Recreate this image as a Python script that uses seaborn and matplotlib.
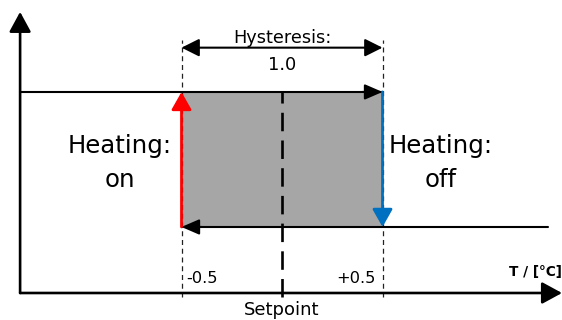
import matplotlib
matplotlib.use("Agg")
import matplotlib.pyplot as plt
import seaborn as sns

# Hysteresis controller data (temperature relative to setpoint, heating state)
setpoint = 0.0
hysteresis = 1.0
t_on = -0.5          # heating switches on
t_off = 0.5          # heating switches off
state_on = 1.0
state_off = 0.0
tick_labels = ["-0.5", "+0.5"]

# axis extent (temperature / state units)
x_min, x_max = -1.303, 1.393
y_min, y_max = -0.489, 1.593
lower_line_end = 1.323

sns.set_style("white")
plt.rcParams["font.family"] = ["DejaVu Sans"]
plt.rcParams["text.color"] = "black"

fig = plt.figure(figsize=(5.62, 3.2), dpi=100)
ax = fig.add_axes([0, 0, 1, 1])
ax.set_xlim(-1.403, 1.393)
ax.set_ylim(-0.689, 1.681)
ax.axis("off")

# shaded hysteresis band
ax.fill_between([t_on, t_off], state_off, state_on, color="#a6a6a6", lw=0, zorder=1)

# dashed guide lines at the switching points
for t in (t_on, t_off):
    ax.plot([t, t], [-0.52, 1.385], color="#222222", lw=0.9,
            linestyle=(0, (4, 3)), zorder=2)

# setpoint dashed line
ax.plot([setpoint, setpoint], [-0.52, state_on], color="black", lw=1.9,
        linestyle=(0, (7, 3.5)), zorder=3)

# heating state lines
sns.lineplot(x=[x_min, t_off], y=[state_on, state_on], ax=ax, color="black", lw=1.5, zorder=4)
sns.lineplot(x=[lower_line_end, t_on], y=[state_off, state_off], ax=ax, color="black", lw=1.5,
             zorder=4, sort=False)

def arrow(x0, y0, x1, y1, color="black", lw=1.5, style="-|>", hl=0.6, hw=0.3, ms=18, z=5):
    ax.annotate("", xy=(x1, y1), xytext=(x0, y0),
                arrowprops=dict(arrowstyle=f"{style},head_length={hl},head_width={hw}",
                                color=color, lw=lw, shrinkA=0, shrinkB=0,
                                mutation_scale=ms), zorder=z)

# arrow heads on state lines
arrow(t_off - 0.1, state_on, t_off, state_on, hw=0.26)
arrow(t_on + 0.1, state_off, t_on, state_off, hw=0.26)

# switching arrows
arrow(t_on, state_off, t_on, state_on, color="#ff0000", lw=2.0, hw=0.34)
arrow(t_off, state_on, t_off, state_off, color="#0070c0", lw=2.0, hw=0.34)

# hysteresis width arrow
arrow(t_on, 1.328, t_off, 1.328, style="<|-|>", hw=0.3)

# axes
arrow(x_min, y_min, x_max, y_min, lw=1.9, hw=0.37, hl=0.68, ms=18)
arrow(x_min, y_min, x_min, y_max, lw=1.9, hw=0.37, hl=0.68, ms=18)

# labels
ax.text(setpoint, 1.361, "Hysteresis:", ha="center", va="baseline", fontsize=12.8)
ax.text(setpoint, 1.163, f"{hysteresis:.1f}", ha="center", va="baseline", fontsize=12.8)
ax.text(-0.806, 0.548, "Heating:", ha="center", va="baseline", fontsize=17.6)
ax.text(-0.806, 0.296, "on", ha="center", va="baseline", fontsize=17.6)
ax.text(0.791, 0.548, "Heating:", ha="center", va="baseline", fontsize=17.6)
ax.text(0.791, 0.296, "off", ha="center", va="baseline", fontsize=17.6)
ax.text(t_on + 0.025, -0.415, tick_labels[0], ha="left", va="baseline", fontsize=11.7)
ax.text(t_off - 0.035, -0.415, tick_labels[1], ha="right", va="baseline", fontsize=11.7)
ax.text(setpoint, -0.652, "Setpoint", ha="center", va="baseline", fontsize=13)
ax.text(1.131, -0.363, "T / [°C]", ha="left", va="baseline", fontsize=9.8, fontweight="bold")

fig.savefig("out.png", dpi=100)
